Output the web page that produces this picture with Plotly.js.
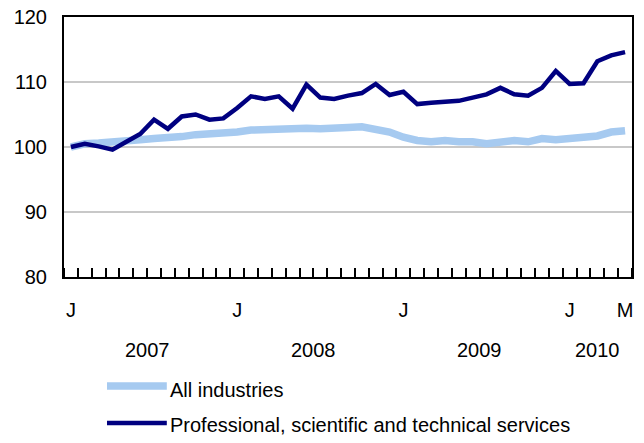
<!DOCTYPE html>
<html>
<head>
<meta charset="utf-8">
<script src="https://cdn.plot.ly/plotly-3.0.1.min.js"></script>
<style>html,body{margin:0;padding:0;background:#fff;}#chart{width:644px;height:443px;}</style>
</head>
<body>
<div id="chart"></div>
<script>
// Monthly index, January 2007 = 100 (Jan 2007 .. May 2010)
const monthIndex = Array.from({length: 41}, (_, i) => i);
const allIndustries = [100.0,100.5,100.6,100.7,100.9,101.1,101.3,101.4,101.6,101.9,
  102.0,102.1,102.3,102.6,102.7,102.8,102.9,102.9,102.8,102.8,
  103.0,103.1,102.6,102.3,101.5,101.0,100.8,101.0,100.8,100.8,
  100.5,100.8,101.0,100.8,101.3,101.1,101.4,101.5,101.7,102.3,102.5];
const professional = [100.0,100.5,100.1,99.6,100.8,102.0,104.2,102.8,104.7,105.0,
  104.2,104.4,106.0,107.8,107.4,107.8,105.9,109.6,107.6,107.4,
  107.9,108.3,109.7,108.0,108.5,106.6,106.8,107.0,107.1,107.6,
  108.1,109.1,108.1,107.9,109.1,111.7,109.7,109.8,113.2,114.1,114.6];
const monthTickIdx = [0, 12, 24, 36, 40];
const monthTickText = ['J', 'J', 'J', 'J', 'M'];
const years = ['2007', '2008', '2009', '2010'];
const yearFirstIdx = [0, 12, 24, 36];
const yearLastIdx = [11, 23, 35, 40];
const seriesNames = ['All industries', 'Professional, scientific and technical services'];
const seriesColors = ['#a6caf0', '#000080'];
const seriesWidths = [7.5, 4.5];

const font = {family: 'Liberation Sans, Arial, sans-serif', size: 20, color: '#000'};

const traces = [allIndustries, professional].map((vals, k) => ({
  x: monthIndex, y: vals, type: 'scatter', mode: 'lines', name: seriesNames[k],
  line: {color: seriesColors[k], width: seriesWidths[k]}, hoverinfo: 'skip'
}));

const annotations = years.map((yr, k) => ({
  x: (yearFirstIdx[k] + yearLastIdx[k]) / 2, xref: 'x', y: -0.281, yref: 'paper',
  text: yr, showarrow: false, xanchor: 'center', yanchor: 'middle', font: font
}));
const shapes = [];
const legendY = [-0.419, -0.5615];
const legendTextY = [-0.434, -0.569];
seriesNames.forEach((nm, k) => {
  shapes.push({type: 'line', xref: 'paper', yref: 'paper', x0: 0.0757, x1: 0.181,
    y0: legendY[k], y1: legendY[k], line: {color: seriesColors[k], width: seriesWidths[k]}});
  annotations.push({x: 0.183, xref: 'paper', y: legendTextY[k], yref: 'paper', text: nm,
    showarrow: false, xanchor: 'left', yanchor: 'middle', font: font});
});

const layout = {
  width: 644, height: 443,
  margin: {l: 64, r: 12, t: 17, b: 166},
  paper_bgcolor: '#fff', plot_bgcolor: '#fff',
  showlegend: false,
  font: font,
  xaxis: {
    range: [-0.5, 40.5], showgrid: false, zeroline: false,
    showline: true, mirror: true, linecolor: '#000', linewidth: 2,
    tickvals: monthTickIdx, ticktext: monthTickText, ticks: '',
    ticklabelstandoff: 14, tickfont: font,
    minor: {tick0: -0.5, dtick: 1, ticks: 'inside', ticklen: 9, tickwidth: 2, tickcolor: '#000', showgrid: false}
  },
  yaxis: {
    range: [80, 120], dtick: 10, tick0: 80, showgrid: true, gridcolor: '#c8c8c8', gridwidth: 2,
    zeroline: false, showline: true, mirror: true, linecolor: '#000', linewidth: 2,
    ticks: '', ticklabelstandoff: 11, tickfont: font
  },
  annotations: annotations,
  shapes: shapes
};

Plotly.newPlot('chart', traces, layout, {displayModeBar: false, staticPlot: true});
</script>
</body>
</html>
